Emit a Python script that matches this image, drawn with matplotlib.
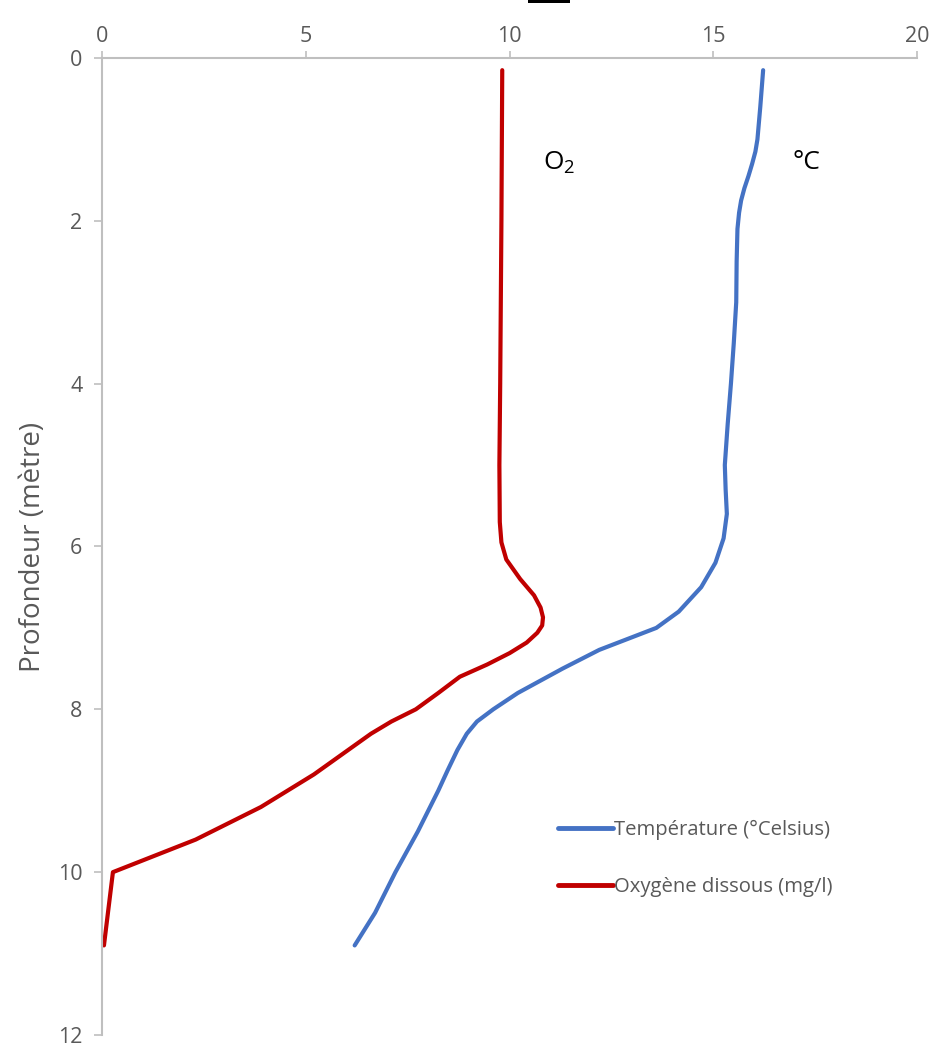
import matplotlib
matplotlib.use("Agg")
import matplotlib.pyplot as plt
from matplotlib.patches import Rectangle

# ---- data ----
temp_depth = [0.15, 0.6, 1.0, 1.15, 1.3, 1.45, 1.6, 1.75, 1.9, 2.1, 2.5, 3.0, 3.5, 4.0,
              4.5, 5.0, 5.3, 5.6, 5.9, 6.2, 6.5, 6.8, 7.0, 7.27, 7.5, 7.8, 8.0, 8.15,
              8.3, 8.5, 8.75, 9.0, 9.5, 10.0, 10.5, 10.9]
temp_vals = [16.22, 16.15, 16.08, 16.03, 15.95, 15.86, 15.76, 15.68, 15.63, 15.59, 15.57,
             15.56, 15.50, 15.43, 15.35, 15.28, 15.30, 15.33, 15.25, 15.05, 14.70, 14.15,
             13.60, 12.20, 11.30, 10.20, 9.60, 9.20, 8.95, 8.72, 8.48, 8.25, 7.75, 7.20,
             6.70, 6.20]

o2_depth = [0.15, 2.0, 4.0, 5.0, 5.7, 5.95, 6.16, 6.4, 6.6, 6.75, 6.87, 6.97, 7.06,
            7.18, 7.31, 7.45, 7.6, 7.8, 8.0, 8.15, 8.3, 8.55, 8.8, 9.2, 9.6, 10.0, 10.9]
o2_vals = [9.82, 9.80, 9.77, 9.75, 9.76, 9.80, 9.92, 10.26, 10.60, 10.76, 10.82, 10.80,
           10.68, 10.42, 10.00, 9.45, 8.78, 8.25, 7.70, 7.10, 6.60, 5.90, 5.20, 3.90,
           2.30, 0.27, 0.05]

x_ticks = [0, 5, 10, 15, 20]
y_ticks = [0, 2, 4, 6, 8, 10, 12]
temp_label = "Température (°Celsius)"
o2_label = "Oxygène dissous (mg/l)"
y_title = "Profondeur (mètre)"

plt.rcParams['font.family'] = ['Open Sans', 'DejaVu Sans']
plt.rcParams['mathtext.fontset'] = 'custom'
plt.rcParams['mathtext.rm'] = 'Open Sans'
plt.rcParams['mathtext.it'] = 'Open Sans'

fig = plt.figure(figsize=(9.35, 10.5), dpi=100)
ax = fig.add_axes([0.109, 0.0143, 0.872, 0.9305])

grey = '#BFBFBF'
tcol = '#595959'

ax.plot(temp_vals, temp_depth, color='#4472C4', lw=3.0, label=temp_label,
        solid_capstyle='round', solid_joinstyle='round')
ax.plot(o2_vals, o2_depth, color='#C00000', lw=3.0, label=o2_label,
        solid_capstyle='round', solid_joinstyle='round')

ax.set_xlim(0, 20)
ax.set_ylim(12, 0)
ax.set_xticks(x_ticks)
ax.set_yticks(y_ticks)
ax.xaxis.tick_top()
ax.tick_params(axis='x', direction='out', length=5, width=1.2, color=grey,
               labelcolor=tcol, labelsize=15.5, pad=3)
ax.tick_params(axis='y', direction='out', length=6, width=1.2, color=grey,
               labelcolor=tcol, labelsize=15.5, pad=8)
for s in ['right', 'bottom']:
    ax.spines[s].set_visible(False)
for s in ['top', 'left']:
    ax.spines[s].set_color(grey)
    ax.spines[s].set_linewidth(1.5)

ax.set_ylabel(y_title, fontsize=20, color=tcol, labelpad=8)

fig.text(793 / 935, 1 - 163 / 1050, "°C", fontsize=19, color='black',
         ha='left', va='center')
fig.text(543 / 935, 1 - 163 / 1050, "O$_2$", fontsize=19, color='black',
         ha='left', va='center')

leg = ax.legend(loc='upper left', bbox_to_anchor=(0.549, 0.228), frameon=False,
                fontsize=14.6, handlelength=2.75, handletextpad=0.05, labelspacing=1.8,
                borderaxespad=0)
for t in leg.get_texts():
    t.set_color(tcol)
for l in leg.get_lines():
    l.set_linewidth(3.5)

fig.patches.append(Rectangle((528 / 935, 1 - 3 / 1050), 42 / 935, 3 / 1050,
                             transform=fig.transFigure, facecolor='black', lw=0))

fig.savefig("out.png", dpi=100)
